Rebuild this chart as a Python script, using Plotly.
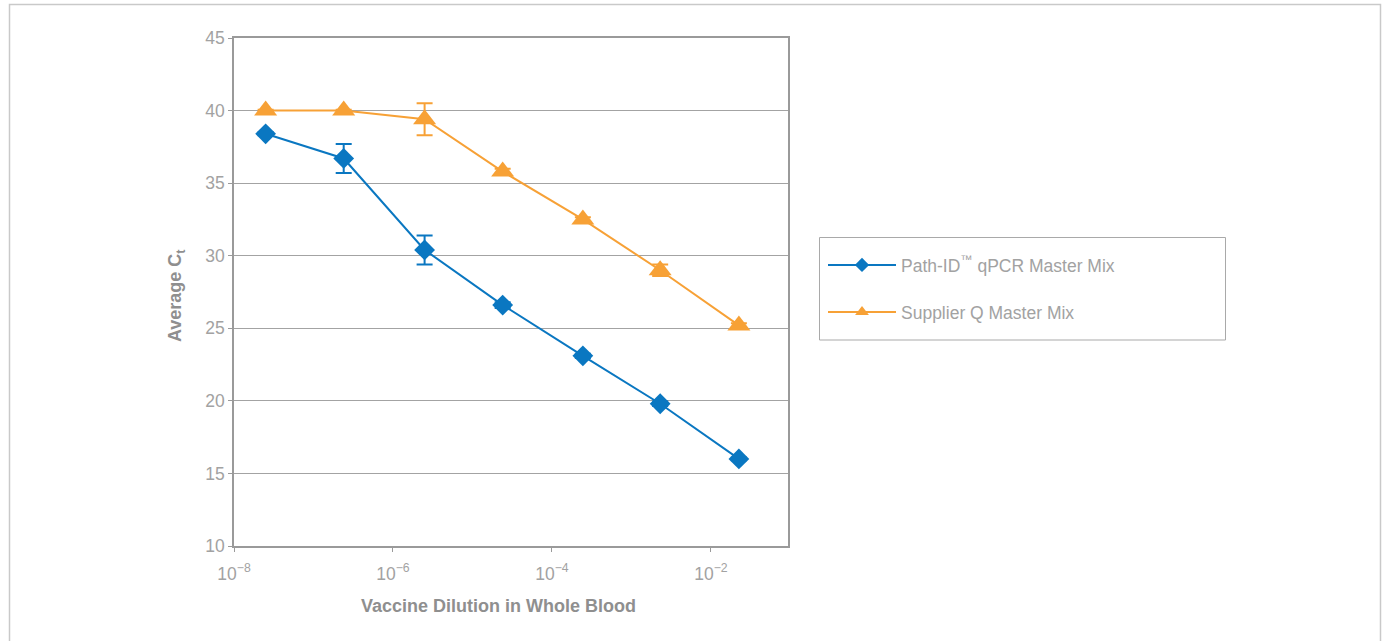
import plotly.graph_objects as go

# Dilution series (fraction of vaccine in whole blood)
dilution = [2.5e-8, 2.4e-7, 2.5e-6, 2.4e-5, 2.45e-4, 2.3e-3, 2.25e-2]

# Average Ct and standard deviation per master mix
pathid_ct = [38.4, 36.7, 30.4, 26.6, 23.1, 19.8, 16.0]
pathid_sd = [0.1, 1.0, 1.0, 0.2, 0.15, 0.15, 0.1]
supplier_ct = [40.0, 40.0, 39.4, 35.8, 32.5, 29.0, 25.2]
supplier_sd = [0.05, 0.05, 1.1, 0.2, 0.15, 0.4, 0.15]

series_names = ["Path-ID<sup>\u2122</sup> qPCR Master Mix", "Supplier Q Master Mix"]

x_ticks = [1e-8, 1e-6, 1e-4, 1e-2]
x_tick_text = ["10<sup>\u22128</sup>", "10<sup>\u22126</sup>", "10<sup>\u22124</sup>", "10<sup>\u22122</sup>"]

x_title = "Vaccine Dilution in Whole Blood"
y_title = "Average C<sub>t</sub>"

BLUE = "#0a77c1"
ORANGE = "#f7a136"
GRID = "#a3a3a3"
AXIS = "#9a9a9a"
TEXT = "#a2a2a2"
TITLE = "#8f8f8f"
FONT = "Liberation Sans"

W, H = 1385, 641
L, R, T, B = 234, 788, 38, 546  # plot area in pixels


def px(x):
    return (x - L) / (R - L)


def py(y):
    return (B - y) / (B - T)


fig = go.Figure()

fig.add_trace(go.Scatter(
    x=dilution, y=pathid_ct, mode="lines+markers", showlegend=False,
    line=dict(color=BLUE, width=2),
    marker=dict(symbol="diamond", size=16, color=BLUE),
    error_y=dict(type="data", array=pathid_sd, color=BLUE, thickness=2, width=8),
))
fig.add_trace(go.Scatter(
    x=dilution, y=supplier_ct, mode="lines+markers", showlegend=False,
    line=dict(color=ORANGE, width=2),
    marker=dict(symbol="triangle-up", size=20, color=ORANGE),
    error_y=dict(type="data", array=supplier_sd, color=ORANGE, thickness=2, width=8),
))

# Legend entries with smaller symbols
fig.add_trace(go.Scatter(
    x=[None], y=[None], mode="lines+markers", name=series_names[0], legend="legend",
    line=dict(color=BLUE, width=2), marker=dict(symbol="diamond", size=11, color=BLUE),
))
fig.add_trace(go.Scatter(
    x=[None], y=[None], mode="lines+markers", name=series_names[1], legend="legend2",
    line=dict(color=ORANGE, width=2), marker=dict(symbol="triangle-up", size=12, color=ORANGE),
))

legend_common = dict(
    xanchor="left", yanchor="middle", bgcolor="rgba(0,0,0,0)", borderwidth=0,
    font=dict(family=FONT, size=17.5, color=TEXT), itemwidth=68,
)

fig.update_layout(
    width=W, height=H, autosize=False,
    margin=dict(l=L, r=W - R, t=T, b=H - B),
    paper_bgcolor="white", plot_bgcolor="white",
    font=dict(family=FONT, size=17, color=TEXT),
    legend=dict(x=px(823), y=py(265), **legend_common),
    legend2=dict(x=px(823), y=py(312), **legend_common),
    xaxis=dict(
        type="log", range=[-8, -1.03],
        tickvals=x_ticks, ticktext=x_tick_text,
        showgrid=False, zeroline=False,
        showline=True, linecolor=AXIS, linewidth=1.5, mirror=True,
        ticks="outside", ticklen=4, tickcolor=AXIS, tickwidth=1,
        ticklabelstandoff=7,
        tickfont=dict(family=FONT, size=17.5, color=TEXT),
    ),
    yaxis=dict(
        range=[10, 45], dtick=5,
        showgrid=True, gridcolor=GRID, gridwidth=1, zeroline=False,
        showline=True, linecolor=AXIS, linewidth=1.5, mirror=True,
        ticks="outside", ticklen=4, tickcolor=AXIS, tickwidth=1,
        tickfont=dict(family=FONT, size=17.5, color=TEXT),
    ),
    annotations=[
        dict(text=x_title, xref="paper", yref="paper", x=px(498), y=py(606),
             xanchor="center", yanchor="middle", showarrow=False,
             font=dict(family=FONT, size=18, color=TITLE, weight="bold")),
        dict(text=y_title, xref="paper", yref="paper", x=px(176), y=py(296),
             xanchor="center", yanchor="middle", showarrow=False, textangle=-90,
             font=dict(family=FONT, size=18, color=TITLE, weight="bold")),
    ],
    shapes=[
        # outer frame
        dict(type="rect", xref="paper", yref="paper",
             x0=px(9.5), x1=px(1380.5), y0=py(660), y1=py(4.5),
             line=dict(color="#c9c9c9", width=1.5), fillcolor="rgba(0,0,0,0)", layer="below"),
        # legend frame
        dict(type="rect", xref="paper", yref="paper",
             x0=px(819.5), x1=px(1225.5), y0=py(340), y1=py(237.5),
             line=dict(color="#a9a9a9", width=1), fillcolor="rgba(0,0,0,0)"),
    ],
)

fig.write_html("out.html")
